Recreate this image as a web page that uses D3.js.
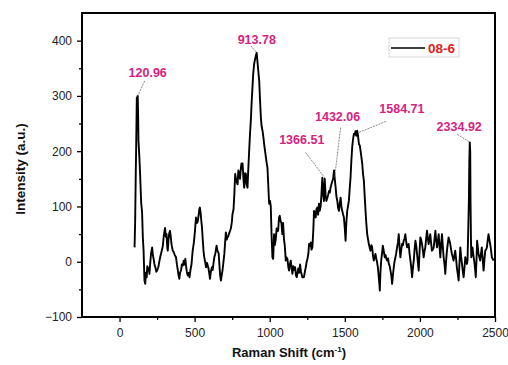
<!DOCTYPE html>
<html>
<head>
<meta charset="utf-8">
<script src="https://cdn.jsdelivr.net/npm/d3@7"></script>
<style>
  body { margin: 0; background: #fff; }
  svg { display: block; font-family: "Liberation Sans", Arial, sans-serif; }
</style>
</head>
<body>
<div id="chart"></div>
<script>
// Raman spectrum of sample 08-6

const shift = [
  100,104,108,111,115,118,121,124,126,130,133,138,144,150,155,160,166,171,176,181,185,190,195,199,
  205,210,217,222,227,232,240,245,250,258,266,272,281,288,295,303,308,313,318,321,326,331,336,341,
  347,354,360,368,376,382,388,393,398,403,410,415,421,427,432,438,443,448,454,460,466,472,479,487,
  495,502,509,514,520,527,531,535,540,544,549,554,559,564,570,576,582,587,592,597,602,608,615,620,
  626,631,638,646,652,660,666,670,675,680,686,690,698,703,708,714,718,723,730,735,741,748,752,759,
  764,770,775,780,786,791,797,802,808,812,816,819,825,830,836,841,846,852,856,863,868,874,880,885,
  890,896,901,907,913,918,924,930,935,941,946,952,958,964,969,975,980,985,990,996,1002,1007,1012,1018,
  1023,1029,1034,1040,1046,1051,1056,1062,1067,1073,1078,1084,1089,1095,1100,1107,1111,1118,1124,1129,1134,1140,1146,1151,
  1157,1163,1169,1175,1180,1184,1190,1196,1202,1208,1212,1217,1222,1228,1234,1240,1246,1251,1257,1262,1268,1273,1278,1284,
  1290,1295,1300,1306,1311,1317,1322,1328,1333,1339,1344,1350,1355,1361,1366,1372,1377,1383,1390,1395,1400,1405,1411,1417,
  1422,1428,1433,1439,1444,1450,1455,1461,1466,1472,1477,1483,1489,1494,1500,1505,1510,1516,1521,1527,1532,1538,1543,1549,
  1555,1560,1566,1571,1577,1582,1587,1594,1600,1605,1610,1616,1621,1627,1632,1638,1643,1649,1655,1660,1666,1671,1677,1682,
  1688,1693,1699,1704,1710,1715,1720,1726,1730,1733,1737,1742,1748,1753,1759,1766,1772,1777,1782,1788,1793,1799,1804,1810,
  1815,1820,1826,1831,1837,1842,1848,1854,1859,1865,1870,1875,1881,1887,1892,1898,1903,1908,1914,1920,1925,1931,1937,1942,
  1948,1953,1959,1964,1970,1976,1981,1986,1992,1997,2003,2008,2014,2020,2025,2030,2036,2041,2047,2052,2058,2063,2069,2074,
  2080,2086,2092,2097,2103,2108,2114,2120,2125,2130,2136,2141,2147,2152,2158,2164,2169,2174,2180,2185,2191,2197,2202,2208,
  2213,2219,2224,2230,2235,2241,2246,2252,2258,2263,2269,2274,2280,2285,2291,2297,2302,2308,2313,2317,2322,2326,2329,2332,
  2335,2337,2340,2342,2346,2350,2357,2364,2368,2372,2377,2381,2386,2390,2396,2401,2407,2412,2418,2424,2430,2435,2441,2446,
  2452,2457,2463,2468,2474,2479,2485,2490
];

const intensity = [
  26,74,160,213,297,285,300,260,219,200,183,150,107,90,45,20,-34,-40,-20,-28,-8,-15,-12,-22,
  0,15,26,12,5,-4,-12,-18,-16,-10,2,10,20,28,48,61,45,50,25,20,40,52,56,45,
  30,20,18,12,8,-5,-15,-25,-31,-20,-15,-5,-7,2,-5,5,-8,-18,-25,-20,-28,-15,-5,20,
  35,55,80,70,72,85,95,98,88,75,62,40,20,8,0,-10,-2,-7,-12,-20,-31,-18,-10,-15,
  -2,8,15,29,20,15,-10,-25,-34,-25,-15,-5,15,35,53,40,45,45,52,55,60,72,86,95,
  120,159,150,145,140,165,159,150,170,178,168,178,150,134,160,159,140,134,160,200,228,255,290,315,
  340,357,365,372,378,363,345,327,295,261,245,237,225,210,200,188,178,170,140,105,110,100,50,8,
  5,50,30,40,60,55,56,80,83,73,70,50,70,40,30,2,8,5,-10,-16,-5,2,-12,-22,
  -8,-15,-10,-25,-28,-22,-12,-20,-5,-18,-22,-28,-28,-28,-18,-10,0,5,14,32,29,35,22,26,
  56,92,88,80,95,98,85,105,92,100,120,152,125,110,150,120,110,115,122,128,125,134,140,146,
  150,165,150,134,118,110,98,92,105,116,100,92,85,80,60,38,70,92,100,110,130,152,180,207,
  222,231,230,236,228,237,230,213,210,200,190,177,160,146,120,92,70,50,40,32,25,20,30,26,
  10,2,8,14,5,-1,-10,-28,-40,-52,-20,2,15,29,20,8,12,5,2,6,-4,-8,-16,-25,
  -40,-25,-10,0,8,15,26,35,50,25,8,20,32,30,38,42,50,38,26,30,32,15,2,-10,
  -28,-12,2,20,38,28,14,0,-16,15,44,40,32,20,8,18,26,40,56,45,32,40,50,35,
  20,22,26,40,56,40,26,38,50,30,8,30,50,30,8,-5,-22,0,20,32,44,38,32,22,
  14,8,2,12,20,5,-10,-22,-34,-5,26,10,-4,-16,-28,-10,8,2,-4,2,60,110,180,216,
  200,110,40,8,15,26,10,-4,-15,-28,5,38,25,14,8,2,15,26,5,-16,5,20,22,26,
  40,50,40,32,20,8,5,2
];

// peak labels: position, intensity at the leader's tip
const peakLabels = ["120.96", "913.78", "1366.51", "1432.06", "1584.71", "2334.92"];
const peakShift = [120.96, 913.78, 1366.51, 1432.06, 1594, 2334.92];
const peakValue = [300, 378, 152, 152, 234, 216];

const xTicks = [0, 500, 1000, 1500, 2000, 2500];
const xMinor = [250, 750, 1250, 1750, 2250];
const yTicks = [-100, 0, 100, 200, 300, 400];
const yMinor = [-50, 50, 150, 250, 350];

const seriesName = "08-6";

const width = 508, height = 365;
const margin = { top: 13, right: 13, bottom: 48, left: 82 };
const iw = width - margin.left - margin.right;
const ih = height - margin.top - margin.bottom;

const svg = d3.select("#chart")
    .append("svg")
    .attr("width", width)
    .attr("height", height);

const g = svg.append("g")
    .attr("transform", `translate(${margin.left},${margin.top})`);

const x = d3.scaleLinear().domain([-250, 2500]).range([0, iw]);
const y = d3.scaleLinear().domain([-100, 450]).range([ih, 0]);

// axes (ticks point outward, the frame is drawn separately)
g.append("g")
    .attr("transform", `translate(0,${ih})`)
    .call(d3.axisBottom(x).tickValues(xTicks).tickSize(5).tickPadding(6).tickFormat(d3.format("d")));
g.append("g")
    .attr("transform", `translate(0,${ih})`)
    .call(d3.axisBottom(x).tickValues(xMinor).tickSize(3).tickFormat(""));

g.append("g")
    .call(d3.axisLeft(y).tickValues(yTicks).tickSize(5).tickPadding(5).tickFormat(d3.format("d")));
g.append("g")
    .call(d3.axisLeft(y).tickValues(yMinor).tickSize(3).tickFormat(""));

g.selectAll(".domain").remove();
g.selectAll(".tick line").attr("stroke", "#000").attr("stroke-width", 1.3);
g.selectAll(".tick text")
    .attr("font-size", "12px")
    .attr("fill", "#222")
    .style("font-family", "'Liberation Sans', Arial, sans-serif");

// spectrum
const pts = shift.map((s, i) => [s, intensity[i]]);
const line = d3.line().x(d => x(d[0])).y(d => y(d[1]));

g.append("path")
    .datum(pts)
    .attr("d", line)
    .attr("fill", "none")
    .attr("stroke", "#000")
    .attr("stroke-width", 1.9)
    .attr("stroke-linejoin", "round");

// frame
g.append("rect")
    .attr("width", iw)
    .attr("height", ih)
    .attr("fill", "none")
    .attr("stroke", "#000")
    .attr("stroke-width", 2);

// peak annotations: label offset and leader start relative to the peak
const labelOffset = [[10, -19], [0, -9], [-23, -34], [3, -57], [43, -19], [-11, -11]];
const leaderOffset = [[7, -15], [-6, -7], [-19, -25], [6, -50], [27, -11], [-13, -8]];

peakLabels.forEach((lab, i) => {
    const px = x(peakShift[i]), py = y(peakValue[i]);
    g.append("line")
        .attr("x1", px + leaderOffset[i][0])
        .attr("y1", py + leaderOffset[i][1])
        .attr("x2", px)
        .attr("y2", py)
        .attr("stroke", "#555")
        .attr("stroke-width", 0.7)
        .attr("stroke-dasharray", "2,1");
    g.append("text")
        .attr("x", px + labelOffset[i][0])
        .attr("y", py + labelOffset[i][1])
        .attr("text-anchor", "middle")
        .attr("font-size", "12.5px")
        .attr("font-weight", "bold")
        .attr("fill", "#d4237f")
        .text(lab);
});

// legend
const legend = svg.append("g").attr("transform", "translate(389,38)");
legend.append("rect")
    .attr("width", 70)
    .attr("height", 19)
    .attr("fill", "#fff")
    .attr("stroke", "#d8d8d8")
    .attr("stroke-width", 1);
legend.append("line")
    .attr("x1", 2).attr("x2", 36)
    .attr("y1", 10).attr("y2", 10)
    .attr("stroke", "#000")
    .attr("stroke-width", 1.7);
legend.append("text")
    .attr("x", 39)
    .attr("y", 15)
    .attr("font-size", "13.5px")
    .attr("font-weight", "bold")
    .attr("fill", "#e0201c")
    .text(seriesName);

// axis titles
const xt = svg.append("text")
    .attr("x", 289)
    .attr("y", 357)
    .attr("text-anchor", "middle")
    .attr("font-size", "13px")
    .attr("font-weight", "bold")
    .attr("fill", "#111");
xt.append("tspan").text("Raman Shift (cm");
xt.append("tspan").attr("dy", -5).attr("font-size", "8px").text("-1");
xt.append("tspan").attr("dy", 5).text(")");

svg.append("text")
    .attr("transform", `translate(25,${margin.top + ih / 2 + 4}) rotate(-90)`)
    .attr("text-anchor", "middle")
    .attr("font-size", "13.5px")
    .attr("font-weight", "bold")
    .attr("fill", "#111")
    .text("Intensity (a.u.)");
</script>
</body>
</html>
